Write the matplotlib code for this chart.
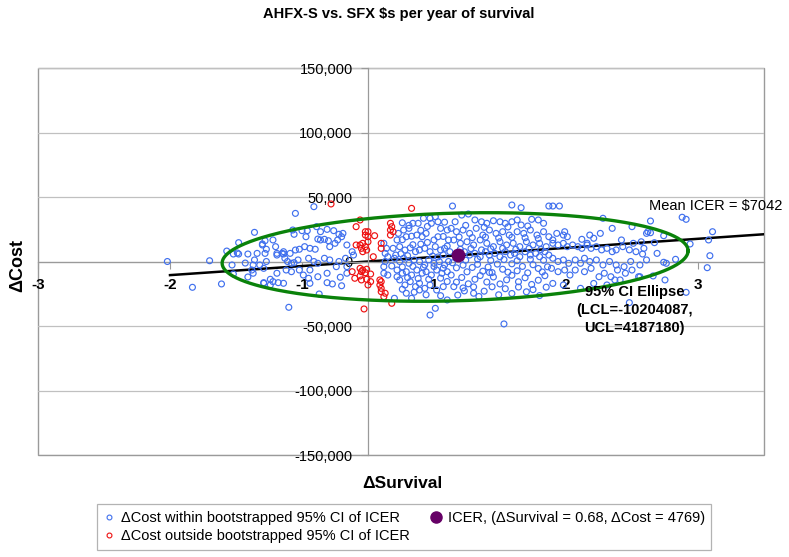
import matplotlib
matplotlib.use("Agg")
import matplotlib.pyplot as plt
from matplotlib.lines import Line2D
from matplotlib.patches import Rectangle
import numpy as np

plt.rcParams['font.family'] = ['Liberation Sans', 'DejaVu Sans']

# ---------------- data ----------------
title = "AHFX-S vs. SFX $s per year of survival"
x_label = "\u0394Survival"
y_label = "\u0394Cost"

x_tick_pos = [-2.5, -1.5, -0.5, 0.5, 1.5, 2.5]
x_tick_labels = ["-3", "-2", "-1", "1", "2", "3"]
y_ticks = [-150000, -100000, -50000, 0, 50000, 100000, 150000]

icer_x = 0.68
icer_y = 4769
mean_icer = 7042
icer_line_x = [-1.5, 3.0]

ellipse_center = (0.66, 3500)
ellipse_half_width = 1.765
ellipse_half_height = 34000
ellipse_tilt = 4800

blue_pts = [
    (-1.52, 0), (-1.20, 600), (-1.33, -20000), (-1.11, -17400), (-1.07, 8100), (-1.02, 5800),
    (-0.98, 5800), (-0.98, 14600), (-1.03, -2700), (-0.93, -1200), (-0.91, 5800), (-0.91, -12000),
    (-1.02, -9700), (-0.99, 6600), (-0.80, 12800), (-0.69, 5000), (-0.64, 5800), (-0.59, 6300),
    (-0.77, 0), (-0.87, -2700), (-0.69, -9100), (-0.79, -16900), (-0.74, -18200), (-0.64, -16900),
    (-0.55, 37300), (-0.41, 42500), (-0.86, 22600), (-0.57, 24400), (-0.56, 21100), (-0.50, 23900),
    (-0.46, 23900), (-0.47, 19200), (-0.39, 27000), (-0.36, 23100), (-0.31, 24900), (-0.26, 23900),
    (-0.22, 21100), (-0.19, 21800), (-0.80, 13600), (-0.78, 16100), (-0.77, 9500), (-0.78, 6300),
    (-0.84, 6300), (-0.86, 1200), (-0.82, -2700), (-0.79, -5300), (-0.88, -6600), (-0.87, -9100),
    (-0.72, 16700), (-0.70, 11500), (-0.69, 6300), (-0.65, 6300), (-0.64, 7600), (-0.63, 2500),
    (-0.61, 0), (-0.58, -1400), (-0.56, -900), (-0.53, 1200), (-0.55, 8900), (-0.52, 9500),
    (-0.48, 11500), (-0.44, 10200), (-0.40, 9500), (-0.38, 17400), (-0.36, 16700), (-0.33, 17200),
    (-0.30, 16100), (-0.29, 11500), (-0.25, 14100), (-0.23, 16700), (-0.20, 19200), (-0.16, 12800),
    (-0.45, 2500), (-0.41, 0), (-0.38, -1400), (-0.33, 2500), (-0.29, 1200), (-0.24, -4000),
    (-0.22, 0), (-0.17, 2500), (-0.74, -13800), (-0.72, -15600), (-0.68, -16400), (-0.79, -16400),
    (-0.44, -6600), (-0.45, -13000), (-0.44, -16900), (-0.38, -11800), (-0.31, -9100), (-0.31, -16400),
    (-0.27, -17400), (-0.21, -12200), (-0.20, -18800), (-0.52, -6600), (-0.49, -10500), (-0.58, -7900),
    (-0.62, -6600), (-0.37, -25200), (-0.60, -35500), (-0.16, -4000), (-0.16, -9100),
    (-0.12, 7600), (-0.11, 5000), (0.12, 14100), (0.14, 10200), (0.13, 6300), (0.15, 3700),
    (0.13, 0), (0.12, -4000), (0.12, -9100), (0.15, -10500),
    (0.23, 21800), (0.27, 24400), (0.31, 25700), (0.34, 29600), (0.38, 29600), (0.42, 33500),
    (0.47, 33500), (0.51, 34700), (0.53, 30800), (0.48, 29600), (0.55, 25700), (0.60, 24400),
    (0.22, 16700), (0.26, 16900), (0.29, 19200), (0.33, 19600), (0.37, 20500), (0.41, 19200),
    (0.44, 21800), (0.50, 16700), (0.53, 19200), (0.57, 19400), (0.61, 16700),
    (0.19, 10200), (0.24, 11500), (0.28, 8900), (0.32, 10600), (0.36, 7600), (0.39, 8900),
    (0.43, 10200), (0.47, 7600), (0.51, 11500), (0.55, 8900), (0.58, 10200), (0.62, 7600),
    (0.20, 2500), (0.24, 0), (0.27, 2500), (0.31, -1400), (0.35, 1200), (0.39, 0),
    (0.43, -2700), (0.46, 1200), (0.50, -1400), (0.54, 0), (0.58, -2700), (0.61, 0),
    (0.22, -6600), (0.26, -9100), (0.29, -7900), (0.33, -10500), (0.37, -6600), (0.41, -9100),
    (0.44, -7900), (0.48, -10500), (0.52, -6600), (0.56, -9100), (0.60, -7900),
    (0.24, -14300), (0.28, -18200), (0.32, -15600), (0.36, -19500), (0.39, -16900), (0.43, -20800),
    (0.47, -18200), (0.52, -22100), (0.57, -19500), (0.29, -24600), (0.33, -28500), (0.39, -22100),
    (0.51, -36300), (0.47, -41500), (0.60, -29800), (0.20, -28500),
    (0.21, 5000), (0.25, 6000), (0.30, 4500), (0.34, 13000), (0.40, 13500), (0.45, 14800),
    (0.49, 4200), (0.53, 3500), (0.57, 5200), (0.60, 12000), (0.18, -3500), (0.26, -4200),
    (0.34, -3800), (0.42, -4500), (0.50, -3900), (0.57, -5200), (0.22, -11800), (0.30, -12500),
    (0.38, -13200), (0.46, -13800), (0.55, -12900), (0.60, -15500), (0.26, -21500), (0.35, -23800),
    (0.44, -25800), (0.55, -26500), (0.31, 28000), (0.45, 27200), (0.58, 30500), (0.40, 24200),
    (0.26, 30000),
    (0.64, 43000), (1.09, 43800), (1.16, 41700), (1.37, 43000),
    (0.71, 36000), (0.76, 36800), (0.81, 32200), (0.86, 30800), (0.90, 29600), (0.95, 31600),
    (1.00, 30800), (1.04, 29600), (1.09, 30800), (1.13, 32200), (1.16, 28300), (1.24, 32700),
    (1.29, 32200), (1.33, 29600), (0.66, 30800),
    (0.63, 25700), (0.67, 23100), (0.72, 24400), (0.77, 21800), (0.82, 25700), (0.87, 20500),
    (0.92, 24400), (0.97, 21800), (1.02, 23100), (1.07, 20500), (1.13, 23100), (1.18, 21800),
    (1.23, 24400), (1.28, 20500), (1.33, 23100), (1.37, 19200),
    (0.65, 16700), (0.70, 14100), (0.75, 15300), (0.80, 12800), (0.85, 16700), (0.90, 14100),
    (0.95, 11500), (1.00, 15300), (1.05, 12800), (1.10, 14100), (1.15, 11500), (1.20, 15300),
    (1.25, 12800), (1.30, 14100), (1.35, 11500),
    (0.73, 7600), (0.77, 5000), (0.81, 6300), (0.85, 3700), (0.89, 7600), (0.92, 5000),
    (0.96, 6300), (1.00, 3700), (1.04, 7600), (1.08, 5000), (1.11, 6300), (1.15, 3700),
    (1.19, 7600), (1.23, 5000), (1.27, 6300), (1.30, 3700), (1.34, 7600), (1.37, 5000),
    (0.64, -1000), (0.67, -4900), (0.72, -2800), (0.75, -8000), (0.79, -4600), (0.83, -2200),
    (0.87, -7500), (0.91, -4300), (0.94, -8600), (0.98, -2000), (1.02, -6000), (1.06, -8300),
    (1.09, -1800), (1.13, -7200), (1.17, -3800), (1.21, -8800), (1.25, -2500), (1.29, -5400),
    (1.32, -8100), (1.36, -4100),
    (0.63, -10500), (0.67, -16000), (0.71, -12400), (0.76, -17300), (0.81, -13800), (0.85, -10900),
    (0.90, -15900), (0.95, -12000), (1.00, -17400), (1.05, -14200), (1.09, -10700), (1.14, -15700),
    (1.19, -12600), (1.24, -17800), (1.29, -14500), (1.34, -11000),
    (0.65, -19500), (0.68, -26000), (0.73, -22800), (0.80, -19700), (0.84, -27100), (0.88, -23000),
    (0.94, -19600), (0.99, -25800), (1.04, -21100), (1.09, -24800), (1.14, -19800), (1.20, -23500),
    (1.25, -21800), (1.30, -26400), (1.35, -19900), (1.03, -48400), (0.80, -24600),
    (0.70, 9500), (0.78, 10000), (0.86, 9000), (0.93, 9800), (1.02, 10200), (1.12, 9400),
    (1.22, 10100), (1.31, 9300), (0.74, 1000), (0.83, 1800), (0.93, 800), (1.03, 1500),
    (1.13, 600), (1.23, 1700), (1.33, 900), (0.69, 19000), (0.79, 18500), (0.89, 18900),
    (0.99, 18200), (1.09, 18700), (1.19, 18400), (1.29, 17800), (0.74, 28000), (0.88, 26500),
    (1.06, 26800), (1.21, 27500), (0.72, -20500), (0.92, -8500),
    (1.40, 43000), (1.45, 43000), (1.78, 33500), (1.85, 25700), (2.00, 27000), (2.11, 21800),
    (2.12, 23100), (1.49, 23100), (1.48, 20500), (1.51, 19200), (1.43, 21800), (1.40, 16700),
    (1.68, 20500), (1.76, 21800), (1.71, 18000), (1.62, 17200), (1.66, 14100), (1.92, 16700),
    (2.01, 14100), (2.07, 15300),
    (1.40, 14100), (1.44, 12800), (1.48, 14100), (1.51, 11500), (1.55, 12800), (1.59, 11500),
    (1.62, 10200), (1.66, 12800), (1.69, 10200), (1.73, 11500), (1.77, 9000), (1.81, 10200),
    (1.85, 7600), (1.88, 9000), (1.93, 11500), (1.98, 9000), (2.03, 7600), (2.09, 10200),
    (1.40, 2500), (1.44, 0), (1.48, 1200), (1.52, -1400), (1.57, 1200), (1.61, -1400),
    (1.64, 2500), (1.68, 0), (1.73, 1200), (1.78, -2700), (1.83, 0), (1.88, -2700),
    (1.94, -4000), (1.99, 0), (2.06, -2700), (2.11, 1200),
    (1.39, -5300), (1.44, -7900), (1.49, -6600), (1.53, -10500), (1.57, -6600), (1.64, -7900),
    (1.69, -5300), (1.75, -11800), (1.79, -9100), (1.84, -11800), (1.89, -6600), (1.95, -9100),
    (2.00, -6600), (2.06, -11800),
    (1.40, -17000), (1.48, -18200), (1.61, -20800), (1.71, -17000), (1.81, -18200), (1.87, -14300),
    (1.91, -14300), (1.98, -31900), (2.05, -11800),
    (2.14, 31400), (2.14, 22300), (2.24, 20000), (2.38, 34300), (2.41, 32700), (2.17, 14600),
    (2.44, 13600), (2.58, 16700), (2.61, 23100), (2.08, 5800), (2.19, 6300), (2.24, -600),
    (2.26, -1400), (2.33, 1700), (2.59, 4500), (2.57, -4800), (2.16, -11200), (2.25, -14300),
    (2.41, -23900),
]

red_pts = [
    (-0.28, 44600), (0.33, 41200), (-0.06, 32200), (-0.09, 27000), (-0.02, 23100), (0.00, 23100),
    (-0.02, 20500), (0.00, 19200), (0.05, 20000), (0.00, 15300), (-0.04, 14100), (-0.06, 12800),
    (-0.09, 12800), (-0.02, 11500), (-0.05, 10200), (-0.01, 8900), (-0.04, 7600), (0.10, 14100),
    (0.10, 10200), (0.17, 29600), (0.18, 27000), (0.17, 24400), (0.19, 23100), (0.17, 20500),
    (0.04, 3700), (-0.06, -5300), (-0.04, -6600), (-0.01, -6000), (-0.05, -7900), (-0.02, -8700),
    (0.02, -9700), (-0.06, -11200), (-0.10, -13000), (-0.01, -13800), (-0.05, -14300), (0.02, -15600),
    (0.00, -18200), (0.09, -14300), (0.10, -15600), (0.09, -18200), (0.10, -20800), (0.10, -23400),
    (0.13, -24600), (0.12, -27300), (0.18, -32400), (-0.03, -36800), (-0.12, -7900),
]

blue_x = [p[0] for p in blue_pts]
blue_y = [p[1] for p in blue_pts]
red_x = [p[0] for p in red_pts]
red_y = [p[1] for p in red_pts]

# ---------------- figure ----------------
W, H = 789, 557
fig = plt.figure(figsize=(W / 100, H / 100), dpi=100)
ax = fig.add_axes([38 / W, 1 - 455 / H, (764 - 38) / W, (455 - 68) / H])
ax.set_xlim(-2.5, 3.0)
ax.set_ylim(-150000, 150000)

grid_c = '#c0c0c0'
axis_c = '#9a9a9a'
blue_c = '#4070ee'
red_c = '#ee1111'

ax.spines['left'].set_position(('data', 0))
ax.spines['bottom'].set_position(('data', 0))
ax.spines['top'].set_visible(False)
ax.spines['right'].set_visible(False)
for s in ('left', 'bottom'):
    ax.spines[s].set_color(axis_c)
    ax.spines[s].set_linewidth(0.9)
ax.add_patch(Rectangle((0, 0), 1, 1, transform=ax.transAxes, fill=False,
                       ec=axis_c, lw=1.0, clip_on=False, zorder=0.5))

ax.set_yticks(y_ticks)
ax.set_yticklabels([f"{v:,}" for v in y_ticks], fontsize=10.5)
ax.set_xticks(x_tick_pos)
ax.set_xticklabels(x_tick_labels, fontsize=11, fontweight='bold')
ax.tick_params(axis='y', direction='out', length=5, color=axis_c, pad=6)
ax.tick_params(axis='x', direction='out', length=5, color=axis_c, pad=7)
ax.yaxis.grid(True, color=grid_c, lw=0.9)
ax.set_axisbelow(True)

# mean ICER line
lx = np.array(icer_line_x)
ax.plot(lx, mean_icer * lx, color='black', lw=1.8, zorder=2)

# points
ax.scatter(blue_x, blue_y, s=18, facecolors='none', edgecolors=blue_c, linewidths=0.85, zorder=3)
ax.scatter(red_x, red_y, s=18, facecolors='none', edgecolors=red_c, linewidths=0.85, zorder=3)

# ellipse
t = np.linspace(0, 2 * np.pi, 400)
ex = ellipse_center[0] + ellipse_half_width * np.cos(t)
ey = ellipse_center[1] + ellipse_tilt * np.cos(t) + ellipse_half_height * np.sin(t)
ax.plot(ex, ey, color='#0a820a', lw=2.4, zorder=4)

# ICER point
ax.plot([icer_x], [icer_y], 'o', color='#660066', ms=9, zorder=5)

# annotations
ax.text(2.13, 43000, f"Mean ICER = ${mean_icer}", fontsize=10.5, ha='left', va='center',
        clip_on=False, zorder=6)
ax.text(2.02, -37500, "95% CI Ellipse\n(LCL=-10204087,\nUCL=4187180)", fontsize=10.5,
        fontweight='bold', ha='center', va='center', linespacing=1.35, zorder=6)

fig.text(399 / W, 1 - 14 / H, title, fontsize=10.5, fontweight='bold', ha='center', va='center')
fig.text(402 / W, 1 - 483 / H, x_label, fontsize=12.5, fontweight='bold', ha='center', va='center')
fig.text(18 / W, 1 - 265 / H, y_label, fontsize=13, fontweight='bold', ha='center', va='center',
         rotation=90)

handles = [
    Line2D([], [], ls='none', marker='o', ms=3.5, mfc='none', mec=blue_c, mew=0.8),
    Line2D([], [], ls='none', marker='o', ms=3.5, mfc='none', mec=red_c, mew=0.8),
    Line2D([], [], ls='none', marker='o', ms=8, color='#660066'),
]
labels = [
    "\u0394Cost within bootstrapped 95% CI of ICER",
    "\u0394Cost outside bootstrapped 95% CI of ICER",
    f"ICER, (\u0394Survival = {icer_x}, \u0394Cost = {icer_y})",
]
leg = fig.legend(handles, labels, ncol=2, loc='center', bbox_to_anchor=(404 / W, 1 - 527 / H),
                 fontsize=10.5, frameon=True, fancybox=False, edgecolor='#a0a0a0',
                 handlelength=0.8, handletextpad=0.4, columnspacing=1.4, labelspacing=0.3,
                 borderpad=0.45)
leg.get_frame().set_linewidth(0.9)

fig.savefig("out.png", dpi=100)
